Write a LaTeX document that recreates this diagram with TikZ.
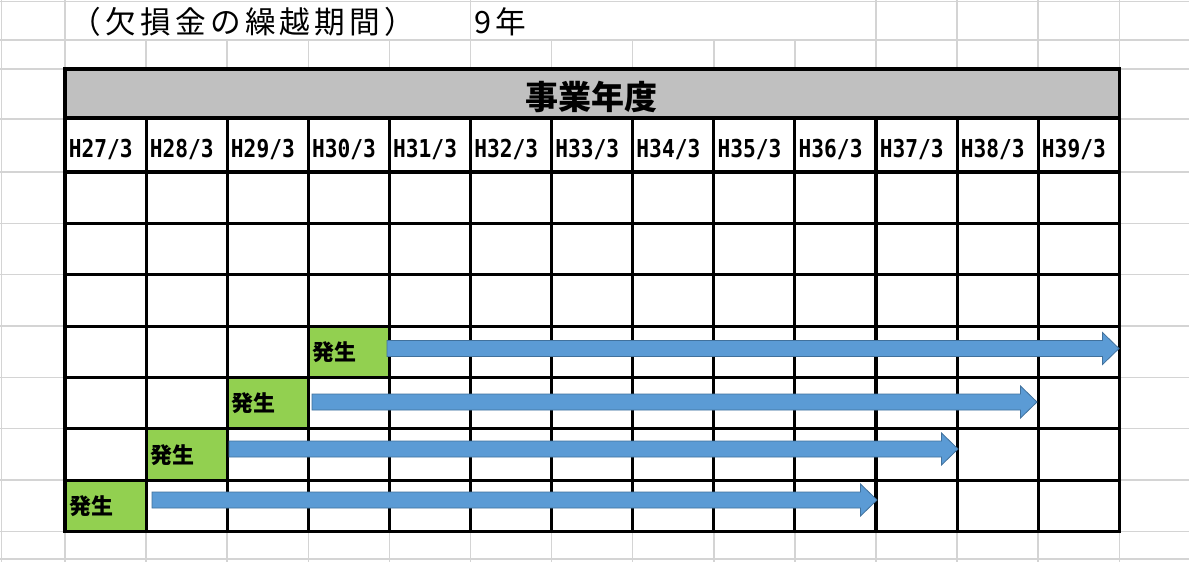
\documentclass[tikz,border=0pt]{standalone}
\usepackage{fontspec}
\usepackage{graphicx}
\usetikzlibrary{calc}
\newfontfamily\jpfont{Noto Sans CJK JP}
\newfontfamily\hmono{DejaVu Sans Mono}
\definecolor{gridgray}{HTML}{D4D4D4}
\definecolor{headgray}{HTML}{C0C0C0}
\definecolor{occgreen}{HTML}{92D050}
\definecolor{arrblue}{HTML}{5B9BD5}
\definecolor{arredge}{HTML}{41719C}
\newcommand\blockarr[2]{\draw[blockarrow] ($(#1)+(0,-8)$) -- ($(#2)+(-16.5,-8)$) -- ($(#2)+(-16.5,-16)$) -- (#2) -- ($(#2)+(-16.5,16)$) -- ($(#2)+(-16.5,8)$) -- ($(#1)+(0,8)$) -- cycle;}
\begin{document}
\begin{tikzpicture}[x=0.75pt,y=-0.75pt,
  gridline/.style={draw=gridgray,line width=1.1pt},
  tabline/.style={draw=black,line width=2.3pt},
  blockarrow/.style={fill=arrblue,draw=arredge,line width=0.6pt,line join=miter},
  hdr/.style={font=\hmono\bfseries\fontsize{18.5}{18.5}\selectfont,anchor=base west,inner sep=0pt},
  occ/.style={font=\jpfont\bfseries\fontsize{16.5}{16.5}\selectfont,anchor=base west,inner sep=0pt},
  toptext/.style={font=\jpfont\fontsize{23}{23}\selectfont\addfontfeatures{LetterSpace=14},anchor=base west,inner sep=0pt}]
\useasboundingbox (0,0) rectangle (1189,562);
\fill[white] (0,0) rectangle (1189,562);
% spreadsheet grid
\foreach \y in {1.5,40,69,119,172,223.35,274.7,326.05,377.4,428.75,480.1,531.45,559}
  \draw[gridline] (0,\y) -- (1189,\y);
\foreach \x in {1.5,65,146.1,227.2,308.3,389.4,470.5,551.6,632.7,713.8,794.9,876,957.1,1038.2,1119.3}
  \draw[gridline] (\x,40) -- (\x,562);
\foreach \x in {1.5,65,470.5,876,957.1,1038.2,1119.3}
  \draw[gridline] (\x,0) -- (\x,40);
% top texts
\node[toptext] (title) at (70,33) {（欠損金の繰越期間）};
\node[toptext] (years) at (474,33) {9年};
% table fills
\fill[white] (65,69) rectangle (1119.3,531.45);
\fill[headgray] (65,69) rectangle (1119.3,118);
\fill[occgreen] (308.3,326.05) rectangle (389.4,377.4);
\fill[occgreen] (227.2,377.4) rectangle (308.3,428.75);
\fill[occgreen] (146.1,428.75) rectangle (227.2,480.1);
\fill[occgreen] (65,480.1) rectangle (146.1,531.45);
% table lines
\foreach \y in {118,172,223.35,274.7,326.05,377.4,428.75,480.1}
  \draw[tabline] (65,\y) -- (1119.3,\y);
\foreach \x in {146.1,227.2,308.3,389.4,470.5,551.6,632.7,713.8,794.9,876,957.1,1038.2}
  \draw[tabline] (\x,118) -- (\x,531.45);
\draw[tabline,line join=miter] (65,69) rectangle (1119.3,531.45);
% header
\node[font=\jpfont\bfseries\fontsize{24.75}{24.75}\selectfont,anchor=base,inner sep=0pt] (head) at (591,109) {事業年度};
\foreach \i/\t in {0/27,1/28,2/29,3/30,4/31,5/32,6/33,7/34,8/35,9/36,10/37,11/38,12/39}
  \node[hdr] (h\t) at ({65+\i*81.1+3.5},157) {\scalebox{0.86}[1]{H\t/3}};
% occurrence labels
\node[occ] (g1) at (312.3,360.5) {発生};
\node[occ] (g2) at (231.2,411.5) {発生};
\node[occ] (g3) at (150.1,463) {発生};
\node[occ] (g4) at (69,514) {発生};
% arrows
\coordinate (a1s) at (387,348.5); \coordinate (a1e) at (1119,348.5);
\coordinate (a2s) at (312,402);   \coordinate (a2e) at (1037,402);
\coordinate (a3s) at (229,449);   \coordinate (a3e) at (958,449);
\coordinate (a4s) at (152,500);   \coordinate (a4e) at (877,500);
\blockarr{a1s}{a1e}
\blockarr{a2s}{a2e}
\blockarr{a3s}{a3e}
\blockarr{a4s}{a4e}
\end{tikzpicture}
\end{document}
